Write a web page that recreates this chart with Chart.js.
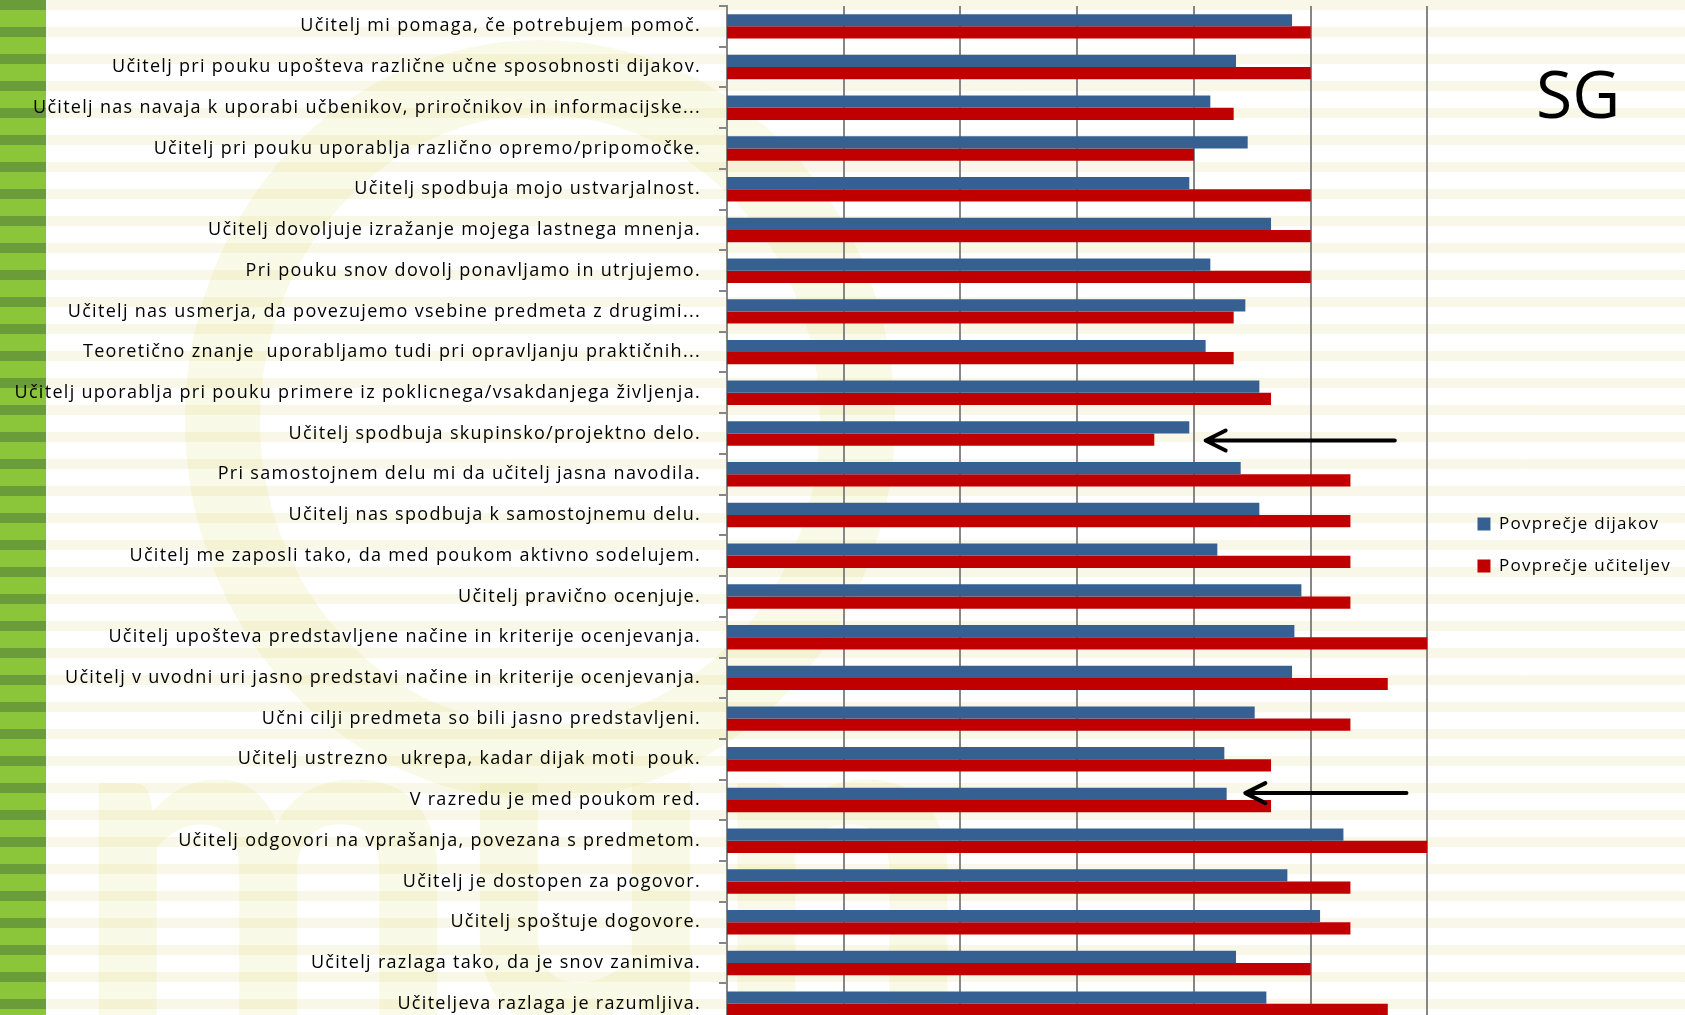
<!DOCTYPE html>
<html>
<head>
<meta charset="utf-8">
<script src="https://cdn.jsdelivr.net/npm/chart.js@4.4.1/dist/chart.umd.min.js"></script>
<style>
  html, body { margin: 0; padding: 0; width: 1685px; height: 1015px; overflow: hidden; }
  body {
    position: relative;
    background: #ffffff;
    font-family: "Open Sans", sans-serif;
  }
  #ring {
    position: absolute; left: 185px; top: 40px; width: 560px; height: 610px;
    border-radius: 50%; border: 75px solid rgba(222, 222, 120, 0.3);
  }
  #mark {
    position: absolute; left: 70px; top: 560px;
    font: bold 470px Lato, sans-serif; color: rgba(222, 222, 120, 0.3);
    letter-spacing: -10px;
  }
  #stripes {
    position: absolute; left: 0; top: 0; width: 1685px; height: 1015px;
    background: repeating-linear-gradient(to bottom,
      rgba(243, 240, 208, 0.5) 0px, rgba(243, 240, 208, 0.5) 10px,
      rgba(255, 255, 255, 0.45) 10px, rgba(255, 255, 255, 0.45) 27px);
  }
  #green {
    position: absolute; left: 0; top: 0; width: 46px; height: 1015px;
    background: repeating-linear-gradient(to bottom,
      #6b9c3a 0px, #6b9c3a 10px, #8bc53a 10px, #8bc53a 27px);
  }
  #sg {
    position: absolute; left: 1536px; top: 47px;
    font: 66px "Open Sans", sans-serif; color: #000;
  }
  #wrap { position: absolute; left: 0; top: 0; width: 1685px; height: 1084px; }
</style>
</head>
<body>
<div id="ring"></div>
<div id="mark">mun</div>
<div id="stripes"></div>
<div id="green"></div>
<div id="sg">SG</div>
<div id="wrap"><canvas id="myChart"></canvas></div>
<script>
const vprasanja = [
  "Učitelj mi pomaga, če potrebujem pomoč.",
  "Učitelj pri pouku upošteva različne učne sposobnosti dijakov.",
  "Učitelj nas navaja k uporabi učbenikov, priročnikov in informacijske...",
  "Učitelj pri pouku uporablja različno opremo/pripomočke.",
  "Učitelj spodbuja mojo ustvarjalnost.",
  "Učitelj dovoljuje izražanje mojega lastnega mnenja.",
  "Pri pouku snov dovolj ponavljamo in utrjujemo.",
  "Učitelj nas usmerja, da povezujemo vsebine predmeta z drugimi...",
  "Teoretično znanje  uporabljamo tudi pri opravljanju praktičnih...",
  "Učitelj uporablja pri pouku primere iz poklicnega/vsakdanjega življenja.",
  "Učitelj spodbuja skupinsko/projektno delo.",
  "Pri samostojnem delu mi da učitelj jasna navodila.",
  "Učitelj nas spodbuja k samostojnemu delu.",
  "Učitelj me zaposli tako, da med poukom aktivno sodelujem.",
  "Učitelj pravično ocenjuje.",
  "Učitelj upošteva predstavljene načine in kriterije ocenjevanja.",
  "Učitelj v uvodni uri jasno predstavi načine in kriterije ocenjevanja.",
  "Učni cilji predmeta so bili jasno predstavljeni.",
  "Učitelj ustrezno  ukrepa, kadar dijak moti  pouk.",
  "V razredu je med poukom red.",
  "Učitelj odgovori na vprašanja, povezana s predmetom.",
  "Učitelj je dostopen za pogovor.",
  "Učitelj spoštuje dogovore.",
  "Učitelj razlaga tako, da je snov zanimiva.",
  "Učiteljeva razlaga je razumljiva."
];

const dijaki = [3.42, 3.18, 3.07, 3.23, 2.98, 3.33, 3.07, 3.22, 3.05, 3.28,
                2.98, 3.20, 3.28, 3.10, 3.46, 3.43, 3.42, 3.26, 3.13, 3.14,
                3.64, 3.40, 3.54, 3.18, 3.31];

const ucitelji = [3.50, 3.50, 3.17, 3.00, 3.50, 3.50, 3.50, 3.17, 3.17, 3.33,
                  2.83, 3.67, 3.67, 3.67, 3.67, 4.00, 3.83, 3.67, 3.33, 3.33,
                  4.00, 3.67, 3.67, 3.50, 3.83];

const osX = [1, 4, 0.5];   // min, max, korak

// puscice: vrstica, od, do
const puscicaVrstica = [10.17, 18.83];
const puscicaOd = [3.86, 3.91];
const puscicaDo = [3.05, 3.22];

const SIVA = "#868686";

// tekst v originalu je bolj raztegnjen
const razmik = {
  id: "razmik",
  beforeLayout(chart) { chart.ctx.letterSpacing = "1.3px"; },
  beforeDraw(chart) { chart.ctx.letterSpacing = "1.3px"; }
};

const puscice = {
  id: "puscice",
  afterDatasetsDraw(chart) {
    const ctx = chart.ctx;
    const sx = chart.scales.x, sy = chart.scales.y;
    ctx.save();
    ctx.strokeStyle = "#000";
    ctx.lineWidth = 4;
    ctx.lineCap = "round";
    ctx.lineJoin = "round";
    for (let i = 0; i < puscicaVrstica.length; i++) {
      const y = sy.getPixelForValue(puscicaVrstica[i]);
      const x1 = sx.getPixelForValue(puscicaOd[i]);
      const x2 = sx.getPixelForValue(puscicaDo[i]);
      ctx.beginPath();
      ctx.moveTo(x1, y);
      ctx.lineTo(x2, y);
      ctx.moveTo(x2 + 20, y - 10);
      ctx.lineTo(x2, y);
      ctx.lineTo(x2 + 20, y + 10);
      ctx.stroke();
    }
    ctx.restore();
  }
};

function renderGrafica() {
  const myChart = document.getElementById("myChart");
  new Chart(myChart, {
    type: "bar",
    data: {
      labels: vprasanja,
      datasets: [
        { label: "Povprečje dijakov", data: dijaki, backgroundColor: "#376092" },
        { label: "Povprečje učiteljev", data: ucitelji, backgroundColor: "#c00000" }
      ]
    },
    options: {
      indexAxis: "y",
      responsive: true,
      maintainAspectRatio: false,
      animation: false,
      events: [],
      datasets: { bar: { barPercentage: 1.0, categoryPercentage: 0.6 } },
      layout: { padding: { top: 6, right: 4, left: 0, bottom: 0 } },
      scales: {
        x: {
          min: osX[0], max: osX[1],
          ticks: { display: false, stepSize: osX[2] },
          grid: { color: SIVA, lineWidth: 2, drawTicks: false },
          border: { display: false },
          afterFit(s) { s.height = 60; }
        },
        y: {
          ticks: { color: "#000", font: { family: "Open Sans", size: 18 }, padding: 18, autoSkip: false },
          grid: { color: SIVA, lineWidth: 2, drawOnChartArea: false, tickLength: 8 },
          border: { color: SIVA, width: 2 },
          afterFit(s) { s.width = 727; s.paddingTop = 0; s.paddingBottom = 0; }
        },
        presledek: {
          type: "linear", position: "right", display: true,
          ticks: { display: false }, grid: { display: false }, border: { display: false },
          afterFit(s) { s.width = 25; s.paddingTop = 0; s.paddingBottom = 0; }
        }
      },
      plugins: {
        legend: {
          position: "right",
          align: "center",
          labels: {
            color: "#000",
            font: { family: "Open Sans", size: 17 },
            boxWidth: 13, boxHeight: 13,
            padding: 25
          }
        },
        tooltip: { enabled: false }
      }
    },
    plugins: [razmik, puscice]
  });
}

renderGrafica();
</script>
</body>
</html>
